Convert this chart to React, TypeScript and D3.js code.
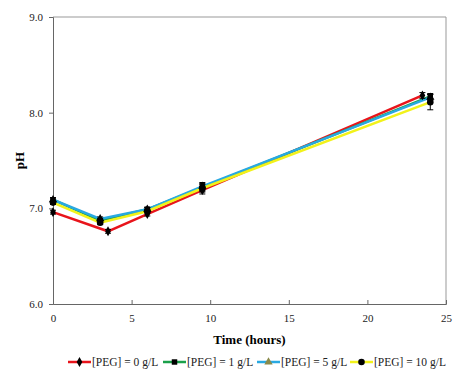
import React, { useRef, useEffect } from 'react';
import * as d3 from 'd3';

const names = ['[PEG] = 0 g/L', '[PEG] = 1 g/L', '[PEG] = 5 g/L', '[PEG] = 10 g/L'];
const colors = ['#e8141b', '#1aa04a', '#29a9e1', '#f2f21a'];
const markers = ['diamond', 'square', 'triangle', 'circle'];
const markerFill = ['#000', '#000', '#8a8a4a', '#000'];

const timesRed = [0, 3.5, 6, 9.5, 23.5];
const timesOther = [0, 3, 6, 9.5, 24];

const ph0 = [6.96, 6.76, 6.94, 7.19, 8.18];
const ph1 = [7.09, 6.87, 6.99, 7.22, 8.17];
const ph5 = [7.09, 6.89, 6.99, 7.23, 8.16];
const ph10 = [7.06, 6.85, 6.97, 7.21, 8.11];

const err0 = [0.02, 0.02, 0.02, 0.04, 0.03];
const err1 = [0.02, 0.02, 0.02, 0.04, 0.03];
const err5 = [0.02, 0.02, 0.02, 0.04, 0.03];
const err10 = [0.02, 0.02, 0.02, 0.04, 0.08];

const xTicks = [0, 5, 10, 15, 20, 25];
const yTicks = [6, 7, 8, 9];

const W = 474, H = 384;
const m = { l: 53, r: 28, t: 17, b: 80 };

export default function App() {
  const ref = useRef<SVGSVGElement>(null);
  useEffect(() => draw(ref.current!), []);
  return (
    <div style={{ position: 'absolute', left: 0, top: 0 }}>
      <svg ref={ref} width={W} height={H}></svg>
    </div>
  );
}

function draw(el: SVGSVGElement) {
  const svg = d3.select(el);
  svg.selectAll('*').remove();
  svg.append('rect').attr('width', W).attr('height', H).attr('fill', '#fff');

  const font = 'Liberation Serif, Times New Roman, serif';
  const x = d3.scaleLinear().domain([0, 25]).range([m.l, W - m.r]);
  const y = d3.scaleLinear().domain([6, 9]).range([H - m.b, m.t]);

  const series = [
    { t: timesRed, v: ph0, e: err0 },
    { t: timesOther, v: ph1, e: err1 },
    { t: timesOther, v: ph5, e: err5 },
    { t: timesOther, v: ph10, e: err10 },
  ].map((s, i) => ({
    name: names[i],
    pts: s.t.map((t, j) => ({ t, v: s.v[j], e: s.e[j] })),
  }));

  // frame
  svg.append('line').attr('x1', m.l).attr('x2', W - m.r).attr('y1', m.t).attr('y2', m.t)
    .attr('stroke', '#999').attr('stroke-width', 1);
  svg.append('line').attr('x1', W - m.r).attr('x2', W - m.r).attr('y1', m.t).attr('y2', H - m.b)
    .attr('stroke', '#999').attr('stroke-width', 1);

  const xa = svg.append('g').attr('transform', `translate(0,${H - m.b})`)
    .call(d3.axisBottom(x).tickValues(xTicks).tickSize(-4).tickPadding(10).tickFormat(d3.format('d')));
  const ya = svg.append('g').attr('transform', `translate(${m.l},0)`)
    .call(d3.axisLeft(y).tickValues(yTicks).tickSize(4).tickPadding(6).tickFormat(d3.format('.1f')));
  [xa, ya].forEach(a => {
    a.select('.domain').attr('stroke', '#666');
    a.selectAll('.tick line').attr('stroke', '#666');
    a.selectAll('text').attr('font-family', font).attr('font-size', 11).attr('fill', '#222');
  });

  const line = d3.line<any>().x(d => x(d.t)).y(d => y(d.v));
  series.forEach((s, i) => {
    svg.append('path').attr('d', line(s.pts)).attr('fill', 'none')
      .attr('stroke', colors[i]).attr('stroke-width', 2.5);
  });

  const sym: any = {
    diamond: d3.symbol().type(d3.symbolDiamond).size(28),
    square: d3.symbol().type(d3.symbolSquare).size(30),
    triangle: d3.symbol().type(d3.symbolTriangle).size(30),
    circle: d3.symbol().type(d3.symbolCircle).size(34),
  };

  series.forEach((s, i) => {
    const g = svg.append('g');
    g.selectAll('line.eb').data(s.pts).join('line').attr('class', 'eb')
      .attr('x1', d => x(d.t)).attr('x2', d => x(d.t))
      .attr('y1', d => y(d.v - d.e)).attr('y2', d => y(d.v + d.e))
      .attr('stroke', '#000').attr('stroke-width', 1);
    ['lo', 'hi'].forEach(sg => {
      g.selectAll(`line.cap-${sg}`).data(s.pts).join('line').attr('class', `cap-${sg}`)
        .attr('x1', d => x(d.t) - 3).attr('x2', d => x(d.t) + 3)
        .attr('y1', d => y(sg === 'hi' ? d.v + d.e : d.v - d.e))
        .attr('y2', d => y(sg === 'hi' ? d.v + d.e : d.v - d.e))
        .attr('stroke', '#000').attr('stroke-width', 1);
    });
    g.selectAll('path.mk').data(s.pts).join('path').attr('class', 'mk')
      .attr('d', sym[markers[i]]())
      .attr('transform', d => `translate(${x(d.t)},${y(d.v)})`)
      .attr('fill', '#000');
  });

  // axis titles
  svg.append('text').attr('x', (m.l + W - m.r) / 2).attr('y', 344)
    .attr('text-anchor', 'middle').attr('font-family', font).attr('font-weight', 'bold')
    .attr('font-size', 13).text('Time (hours)');
  svg.append('text').attr('transform', `translate(24,${(m.t + H - m.b) / 2}) rotate(-90)`)
    .attr('text-anchor', 'middle').attr('font-family', font).attr('font-weight', 'bold')
    .attr('font-size', 13).text('pH');

  // legend
  const lx = [68, 163, 257, 350];
  const ly = 362;
  names.forEach((n, i) => {
    const g = svg.append('g').attr('transform', `translate(${lx[i]},${ly})`);
    g.append('line').attr('x1', 0).attr('x2', 23).attr('y1', 0).attr('y2', 0)
      .attr('stroke', colors[i]).attr('stroke-width', 2.5);
    g.append('path').attr('d', sym[markers[i]]()).attr('transform', 'translate(11.5,0)')
      .attr('fill', markerFill[i]);
    g.append('text').attr('x', 24).attr('y', 4).attr('font-family', font)
      .attr('font-size', 11.5).attr('fill', '#222').text(n);
  });
}
